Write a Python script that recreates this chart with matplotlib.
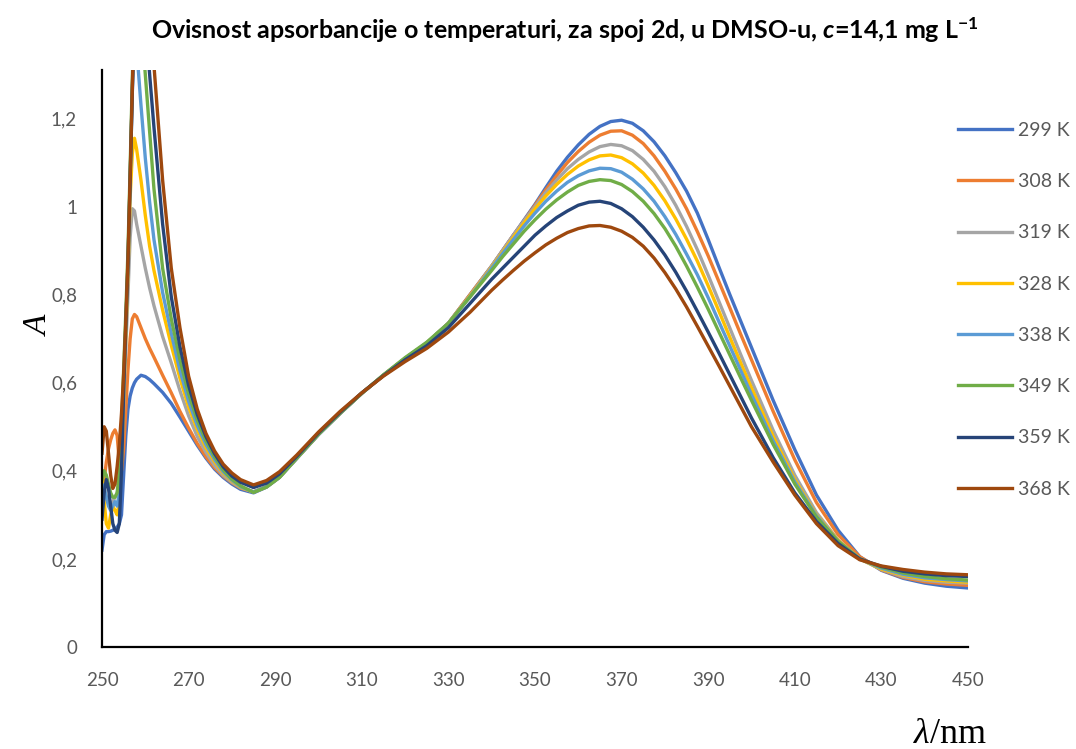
import matplotlib
matplotlib.use("Agg")
import matplotlib.pyplot as plt

# valne duljine (nm)
wl = [250, 250.5, 251, 251.5, 252, 252.5, 253, 253.5, 254, 254.5, 255, 255.5, 256, 256.5, 257, 257.5, 258,
      259, 260, 261, 262,
      264, 266, 268, 270, 272, 274, 276, 278, 280, 282,
      285, 288, 291, 295,
      300, 305, 310, 315, 320, 325, 330, 335,
      340, 342.5, 345, 347.5, 350, 352.5, 355, 357.5, 360, 362.5, 365, 367.5, 370, 372.5, 375, 377.5,
      380, 382.5, 385, 387.5, 390, 392.5, 395, 397.5, 400,
      405, 410, 415, 420, 425, 430, 435, 440, 445, 450]

A_299 = [0.22, 0.255, 0.262, 0.262, 0.263, 0.265, 0.268, 0.272, 0.28, 0.30, 0.39, 0.48, 0.54, 0.57, 0.588, 0.60, 0.608,
         0.617, 0.614, 0.607, 0.598,
         0.578, 0.553, 0.522, 0.49, 0.458, 0.429, 0.404, 0.385, 0.37, 0.358,
         0.350, 0.363, 0.385, 0.428,
         0.482, 0.53, 0.576, 0.617, 0.655, 0.69, 0.735, 0.80,
         0.865, 0.90, 0.935, 0.97, 1.005, 1.043, 1.08, 1.112, 1.14, 1.164, 1.182, 1.193, 1.196, 1.189, 1.172, 1.147,
         1.115, 1.077, 1.035, 0.985, 0.925, 0.862, 0.80, 0.74, 0.68,
         0.56, 0.448, 0.345, 0.265, 0.205, 0.174, 0.156, 0.145, 0.138, 0.134]
A_308 = [0.33, 0.38, 0.42, 0.45, 0.47, 0.485, 0.493, 0.48, 0.42, 0.40, 0.45, 0.54, 0.63, 0.70, 0.745, 0.755, 0.75,
         0.725, 0.70, 0.678, 0.658,
         0.617, 0.577, 0.535, 0.497, 0.462, 0.432, 0.407, 0.388, 0.373, 0.361,
         0.352, 0.364, 0.386, 0.429,
         0.483, 0.531, 0.576, 0.617, 0.655, 0.69, 0.735, 0.80,
         0.865, 0.90, 0.935, 0.968, 1.003, 1.038, 1.07, 1.10, 1.125, 1.146, 1.162, 1.171, 1.172, 1.162, 1.143, 1.115,
         1.08, 1.04, 0.995, 0.943, 0.888, 0.829, 0.77, 0.71, 0.652,
         0.535, 0.425, 0.328, 0.255, 0.205, 0.175, 0.158, 0.148, 0.143, 0.140]
A_319 = [0.35, 0.36, 0.34, 0.33, 0.32, 0.33, 0.34, 0.35, 0.37, 0.42, 0.55, 0.68, 0.80, 0.93, 0.995, 0.99, 0.96,
         0.91, 0.86, 0.815, 0.775,
         0.705, 0.645, 0.582, 0.525, 0.478, 0.442, 0.412, 0.39, 0.374, 0.362,
         0.352, 0.364, 0.386, 0.429,
         0.483, 0.531, 0.576, 0.617, 0.655, 0.69, 0.735, 0.798,
         0.865, 0.90, 0.935, 0.968, 1.0, 1.032, 1.06, 1.086, 1.107, 1.124, 1.136, 1.141, 1.138, 1.127, 1.107, 1.08,
         1.045, 1.003, 0.955, 0.902, 0.844, 0.784, 0.724, 0.664, 0.605,
         0.492, 0.39, 0.305, 0.243, 0.20, 0.176, 0.16, 0.151, 0.147, 0.145]
A_328 = [0.40, 0.33, 0.28, 0.27, 0.30, 0.32, 0.31, 0.30, 0.33, 0.42, 0.57, 0.71, 0.85, 1.02, 1.12, 1.155, 1.13,
         1.06, 0.98, 0.91, 0.855,
         0.765, 0.685, 0.61, 0.545, 0.494, 0.453, 0.421, 0.395, 0.377, 0.363,
         0.352, 0.364, 0.386, 0.429,
         0.483, 0.531, 0.576, 0.617, 0.655, 0.69, 0.735, 0.797,
         0.862, 0.896, 0.93, 0.963, 0.995, 1.024, 1.05, 1.073, 1.092, 1.106, 1.115, 1.117, 1.111, 1.097, 1.076, 1.048,
         1.013, 0.972, 0.926, 0.876, 0.82, 0.762, 0.703, 0.645, 0.588,
         0.478, 0.38, 0.30, 0.242, 0.20, 0.177, 0.163, 0.154, 0.150, 0.147]
A_338 = [0.37, 0.36, 0.34, 0.32, 0.31, 0.32, 0.33, 0.32, 0.35, 0.45, 0.59, 0.73, 0.87, 1.06, 1.26, 1.40, 1.36,
         1.23, 1.11, 1.01, 0.925,
         0.805, 0.712, 0.628, 0.558, 0.503, 0.46, 0.426, 0.398, 0.379, 0.364,
         0.352, 0.364, 0.386, 0.429,
         0.483, 0.531, 0.576, 0.617, 0.655, 0.69, 0.735, 0.795,
         0.86, 0.893, 0.925, 0.956, 0.985, 1.012, 1.035, 1.055, 1.07, 1.081, 1.087, 1.086, 1.078, 1.062, 1.04, 1.012,
         0.977, 0.937, 0.892, 0.845, 0.793, 0.738, 0.683, 0.628, 0.573,
         0.468, 0.375, 0.298, 0.24, 0.20, 0.179, 0.165, 0.157, 0.153, 0.150]
A_349 = [0.38, 0.40, 0.39, 0.37, 0.35, 0.34, 0.34, 0.35, 0.40, 0.50, 0.63, 0.76, 0.90, 1.09, 1.29, 1.47, 1.60,
         1.43, 1.30, 1.17, 1.04,
         0.86, 0.745, 0.652, 0.575, 0.515, 0.468, 0.432, 0.402, 0.381, 0.366,
         0.351, 0.363, 0.385, 0.429,
         0.483, 0.531, 0.576, 0.618, 0.657, 0.692, 0.735, 0.795,
         0.855, 0.886, 0.915, 0.944, 0.97, 0.994, 1.015, 1.033, 1.048, 1.057, 1.061, 1.059, 1.05, 1.034, 1.012, 0.984,
         0.95, 0.91, 0.865, 0.817, 0.767, 0.715, 0.663, 0.611, 0.56,
         0.46, 0.37, 0.295, 0.24, 0.20, 0.181, 0.168, 0.160, 0.155, 0.152]
A_359 = [0.29, 0.35, 0.38, 0.36, 0.32, 0.28, 0.265, 0.26, 0.28, 0.40, 0.58, 0.73, 0.87, 1.06, 1.26, 1.44, 1.60,
         1.55, 1.42, 1.30, 1.18,
         0.96, 0.795, 0.682, 0.594, 0.528, 0.478, 0.439, 0.409, 0.388, 0.374,
         0.362, 0.372, 0.393, 0.433,
         0.486, 0.533, 0.577, 0.616, 0.652, 0.684, 0.725, 0.78,
         0.835, 0.86, 0.885, 0.91, 0.935, 0.956, 0.975, 0.99, 1.003, 1.01, 1.012, 1.007, 0.995, 0.977, 0.953, 0.924,
         0.89, 0.851, 0.808, 0.762, 0.715, 0.667, 0.618, 0.569, 0.52,
         0.43, 0.35, 0.285, 0.235, 0.20, 0.183, 0.172, 0.166, 0.162, 0.160]
A_368 = [0.44, 0.50, 0.49, 0.44, 0.39, 0.36, 0.37, 0.41, 0.46, 0.53, 0.62, 0.74, 0.88, 1.07, 1.27, 1.45, 1.62,
         1.56, 1.49, 1.41, 1.32,
         1.06, 0.86, 0.725, 0.615, 0.54, 0.485, 0.445, 0.415, 0.395, 0.38,
         0.368, 0.378, 0.398, 0.436,
         0.488, 0.535, 0.577, 0.615, 0.648, 0.678, 0.715, 0.76,
         0.81, 0.833, 0.855, 0.876, 0.895, 0.913, 0.928, 0.941, 0.95, 0.956, 0.957, 0.953, 0.944, 0.93, 0.91, 0.883,
         0.85, 0.813, 0.772, 0.728, 0.683, 0.638, 0.592, 0.546, 0.50,
         0.42, 0.345, 0.28, 0.23, 0.198, 0.184, 0.176, 0.170, 0.166, 0.164]

labels = ["299 K", "308 K", "319 K", "328 K", "338 K", "349 K", "359 K", "368 K"]
series = [A_299, A_308, A_319, A_328, A_338, A_349, A_359, A_368]
colors = ["#4472C4", "#ED7D31", "#A5A5A5", "#FFC000", "#5B9BD5", "#70AD47", "#264478", "#9E480E"]

plt.rcParams["font.family"] = ["Lato", "DejaVu Sans"]
plt.rcParams["mathtext.fontset"] = "custom"
plt.rcParams["mathtext.rm"] = "Lato:bold"
plt.rcParams["mathtext.it"] = "Lato:italic:bold"

W, H = 1076, 749
fig = plt.figure(figsize=(W / 100, H / 100), dpi=100)
ax = fig.add_axes([102 / W, 1 - 647 / H, (968 - 102) / W, (647 - 70) / H])

for y, lab, c in zip(series, labels, colors):
    ax.plot(wl, y, color=c, lw=2.4, label=lab, solid_joinstyle="round")

ax.set_xlim(250, 450)
ax.set_ylim(0, 1.31)
ax.set_xticks(range(250, 451, 20))
ax.set_yticks([0, 0.2, 0.4, 0.6, 0.8, 1.0, 1.2])
ax.set_yticklabels(["0", "0,2", "0,4", "0,6", "0,8", "1", "1,2"])
ax.tick_params(length=0, labelsize=13.5, colors="#595959", pad=18)
for s in ["top", "right"]:
    ax.spines[s].set_visible(False)
for s in ["left", "bottom"]:
    ax.spines[s].set_color("black")
    ax.spines[s].set_linewidth(1.6)

fig.text(565 / W, 1 - 30 / H,
         r"Ovisnost apsorbancije o temperaturi, za spoj 2d, u DMSO-u, $\mathit{c}$=14,1 mg L$^{\mathrm{-1}}$",
         ha="center", va="center", fontsize=18, fontweight="bold")

fig.text(40 / W, 1 - 326 / H, "A", family="Liberation Serif", style="italic",
         fontsize=24, rotation=90, ha="center", va="center")
t1 = fig.text(914 / W, 1 - 743 / H, "λ", family="Liberation Serif", style="italic",
              fontsize=26, ha="left", va="baseline")
ax.annotate("/nm", xy=(1, 0), xycoords=t1, va="bottom", ha="left",
            family="Liberation Serif", fontsize=26)

fig.legend(loc="upper left", bbox_to_anchor=(958 / W, 1 - 122 / H), frameon=False,
           fontsize=14, labelcolor="#595959", handlelength=2.8, handletextpad=0.3,
           labelspacing=1.76, borderpad=0, borderaxespad=0)

fig.savefig("out.png", dpi=100)
